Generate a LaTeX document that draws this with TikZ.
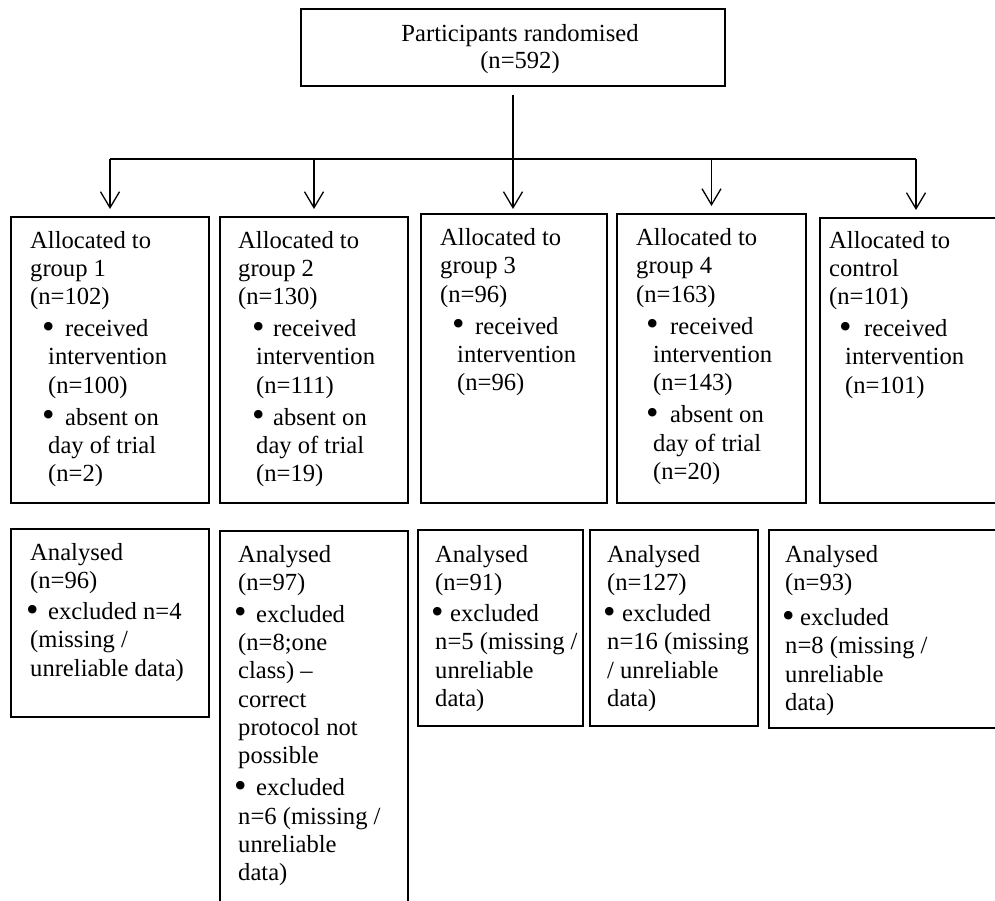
\documentclass[tikz,border=0pt]{standalone}
\usepackage{fontspec}
\setmainfont{Liberation Serif}
\usetikzlibrary{arrows.meta}
\newcommand{\bigbul}{\raisebox{-1.5pt}{\scalebox{1.45}{\textbullet}}}
\newcommand{\bitem}[3]{\hspace*{#1}\makebox[#2][l]{\bigbul}#3}
\newcommand{\boxtxt}[1]{\parbox[t]{260pt}{\fontsize{24.6pt}{28.3pt}\selectfont\raggedright #1}}
\tikzset{
  box/.style={draw, line width=2pt, inner sep=0pt, anchor=north west},
  txt/.style={anchor=base west, inner sep=0pt},
  conn/.style={line width=1.3pt},
  arr/.style={-{Straight Barb[length=16pt,width=19pt,line width=1.3pt]}}
}
\begin{document}
\begin{tikzpicture}[x=1pt,y=-1pt]
\useasboundingbox (0,0) rectangle (995,901);
% top box
\node[box, minimum width=424pt, minimum height=77pt] (top) at (300,8) {};
\node[anchor=base, inner sep=0pt] (toptxt) at (520,41.5)
  {\parbox[t]{320pt}{\centering\fontsize{24.6pt}{27pt}\selectfont Participants randomised\\(n=592)}};
% row 1 boxes
\node[box, minimum width=198pt, minimum height=286pt] (a1) at (10,216) {};
\node[box, minimum width=188pt, minimum height=286pt] (a2) at (219,216) {};
\node[box, minimum width=186pt, minimum height=289pt] (a3) at (420,213) {};
\node[box, minimum width=189pt, minimum height=289pt] (a4) at (616,213) {};
\node[box, minimum width=192pt, minimum height=285pt] (a5) at (819,217) {};
% row 2 boxes
\node[box, minimum width=198pt, minimum height=188pt] (b1) at (10,528) {};
\node[box, minimum width=188pt, minimum height=385pt] (b2) at (219,530) {};
\node[box, minimum width=165pt, minimum height=196pt] (b3) at (417,529) {};
\node[box, minimum width=168pt, minimum height=196pt] (b4) at (589,529) {};
\node[box, minimum width=243pt, minimum height=198pt] (b5) at (768,529) {};
% row 1 texts
\node[txt] (ta1) at (30,248) {\boxtxt{Allocated to\\group 1\\(n=102)\\[3.7pt]
  \bitem{12pt}{23pt}{received}\\\hspace*{18pt}intervention\\\hspace*{18pt}(n=100)\\[3.7pt]
  \bitem{12pt}{23pt}{absent on}\\\hspace*{18pt}day of trial\\\hspace*{18pt}(n=2)}};
\node[txt] (ta2) at (238,248) {\boxtxt{Allocated to\\group 2\\(n=130)\\[3.7pt]
  \bitem{14pt}{21pt}{received}\\\hspace*{18pt}intervention\\\hspace*{18pt}(n=111)\\[3.7pt]
  \bitem{14pt}{21pt}{absent on}\\\hspace*{18pt}day of trial\\\hspace*{18pt}(n=19)}};
\node[txt] (ta3) at (440,245.5) {\boxtxt{Allocated to\\group 3\\(n=96)\\[3.7pt]
  \bitem{12pt}{23pt}{received}\\\hspace*{17pt}intervention\\\hspace*{17pt}(n=96)}};
\node[txt] (ta4) at (636,245.5) {\boxtxt{Allocated to\\group 4\\(n=163)\\[3.7pt]
  \bitem{10pt}{24pt}{received}\\\hspace*{17pt}intervention\\\hspace*{17pt}(n=143)\\[3.7pt]
  \bitem{10pt}{24pt}{absent on}\\\hspace*{17pt}day of trial\\\hspace*{17pt}(n=20)}};
\node[txt] (ta5) at (829,248) {\boxtxt{Allocated to\\control\\(n=101)\\[3.7pt]
  \bitem{10pt}{25pt}{received}\\\hspace*{16pt}intervention\\\hspace*{16pt}(n=101)}};
% row 2 texts
\node[txt] (tb1) at (30,560) {\boxtxt{Analysed\\(n=96)\\[3pt]
  \bitem{-4pt}{22pt}{excluded n=4}\\(missing /\\unreliable data)}};
\node[txt] (tb2) at (238,562) {\boxtxt{Analysed\\(n=97)\\[3.7pt]
  \bitem{-4pt}{22pt}{excluded}\\(n=8;one\\class) –\\correct\\protocol not\\possible\\[3.7pt]
  \bitem{-4pt}{22pt}{excluded}\\n=6 (missing /\\unreliable\\data)}};
\node[txt] (tb3) at (435,562) {\boxtxt{Analysed\\(n=91)\\[3pt]
  \bitem{-4pt}{19pt}{excluded}\\n=5 (missing /\\unreliable\\data)}};
\node[txt] (tb4) at (607,562) {\boxtxt{Analysed\\(n=127)\\[3pt]
  \bitem{-4pt}{19pt}{excluded}\\n=16 (missing\\/ unreliable\\data)}};
\node[txt] (tb5) at (785,562) {\boxtxt{Analysed\\(n=93)\\[7pt]
  \bitem{-3pt}{18pt}{excluded}\\n=8 (missing /\\unreliable\\data)}};
% connectors
\coordinate (s0) at ([yshift=-8pt]top.south);
\coordinate (j) at (s0 |- 0,159);
\draw[conn] (a1.north |- j) -- (a5.north |- j);
\draw[conn,arr] (s0) -- ([yshift=4pt]s0 |- a3.north);
\foreach \n in {a1,a2,a4,a5}{
  \draw[conn,arr] (\n.north |- j) -- ([yshift=7pt]\n.north);
}
\end{tikzpicture}
\end{document}
